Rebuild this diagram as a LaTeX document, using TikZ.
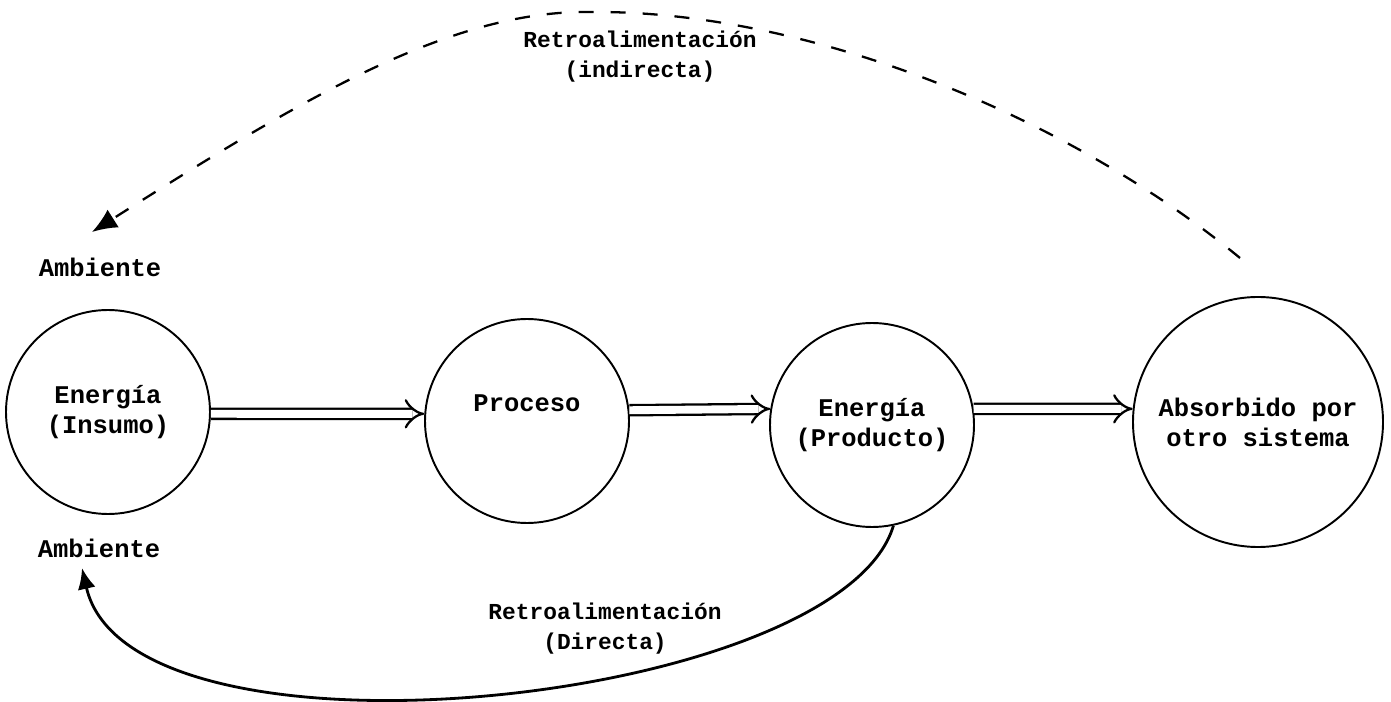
\documentclass[tikz,border=0pt]{standalone}
\usepackage{fontspec}
\setmonofont{Liberation Mono}
\usetikzlibrary{arrows.meta}

\tikzset{
	texto/.style={align=center, font=\ttfamily\bfseries\fontsize{14.5}{17}\selectfont},
	retexto/.style={align=center, font=\ttfamily\bfseries\fontsize{13}{17}\selectfont},
	etapa/.style={texto, draw, circle, line width=1.1pt, inner sep=0pt, minimum size=4.08cm},
	flujo/.style={double, double distance=4.5pt, line width=1.3pt, -{Implies[scale=1.4]}},
	indirecta/.style={line width=1.3pt, dash pattern=on 0.3cm off 0.34cm, -{Latex[length=0.5cm, width=0.42cm]}},
	directa/.style={line width=1.6pt, -{Latex[length=0.42cm, width=0.36cm]}}
}

\begin{document}
\begin{tikzpicture}
			%%%%% START %%%%%
			\useasboundingbox (0, 0) rectangle (27.82, -14.04);
			
			\node[etapa] (insumo) at (2.16, -8.24) {Energía\\(Insumo)};
			\node[etapa, label={[texto, yshift=0.36cm]center:Proceso}] (proceso) at (10.54, -8.42) {};
			\node[etapa] (producto) at (17.44, -8.5) {Energía\\(Producto)};
			\node[etapa, minimum size=5cm] (absorbido) at (25.16, -8.44) {Absorbido por\\otro sistema};
			
			\node[texto] (ambsup) at (2.0, -5.34) {Ambiente};
			\node[texto] (ambinf) at (1.98, -10.96) {Ambiente};
			
			\draw[flujo] (insumo.-1) -- (proceso.176);
			\draw[flujo] (proceso.6) -- (producto.171.5);
			\draw[flujo] (producto.9) -- (absorbido.174);
			
			% retroalimentacion indirecta
			\coordinate (salida) at (24.8, -5.16);
			\coordinate (cima) at (11.8, -0.24);
			\coordinate (llegada) at (1.84, -4.64);
			\draw[indirecta] (salida) .. controls (21.2, -2.2) and (16.0, -0.2) .. (cima)
				.. controls (9.0, -0.2) and (6.0, -2.0) .. (llegada);
			\node[retexto] (retroind) at (12.8, -1.14) {Retroalimentación\\(indirecta)};
			
			% retroalimentacion directa
			\coordinate (regreso) at (1.64, -11.36);
			\draw[directa] (producto.-78) .. controls (16.8, -14.1) and (2.6, -15.6) .. (regreso);
			\node[retexto] (retrodir) at (12.1, -12.58) {Retroalimentación\\(Directa)};
			
			%%%%% END %%%%%
\end{tikzpicture}
\end{document}
